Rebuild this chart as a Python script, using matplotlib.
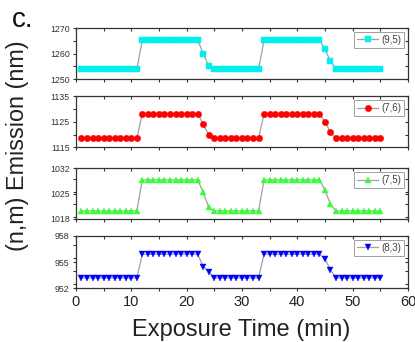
import matplotlib
matplotlib.use("Agg")
import matplotlib.pyplot as plt
from matplotlib.ticker import MultipleLocator

plt.rcParams['font.family'] = ['Liberation Sans', 'DejaVu Sans']

time = [1, 2, 3, 4, 5, 6, 7, 8, 9, 10, 11,
        12, 13, 14, 15, 16, 17, 18, 19, 20, 21, 22,
        23, 24,
        25, 26, 27, 28, 29, 30, 31, 32, 33,
        34, 35, 36, 37, 38, 39, 40, 41, 42, 43, 44,
        45, 46,
        47, 48, 49, 50, 51, 52, 53, 54, 55]

em_95 = [1253.8, 1253.8, 1253.8, 1253.8, 1253.8, 1253.8, 1253.8, 1253.8, 1253.8, 1253.8, 1253.8,
         1265.3, 1265.3, 1265.3, 1265.3, 1265.3, 1265.3, 1265.3, 1265.3, 1265.3, 1265.3, 1265.3,
         1260.0, 1255.1,
         1253.8, 1253.8, 1253.8, 1253.8, 1253.8, 1253.8, 1253.8, 1253.8, 1253.8,
         1265.3, 1265.3, 1265.3, 1265.3, 1265.3, 1265.3, 1265.3, 1265.3, 1265.3, 1265.3, 1265.3,
         1261.6, 1257.0,
         1253.8, 1253.8, 1253.8, 1253.8, 1253.8, 1253.8, 1253.8, 1253.8, 1253.8]

em_76 = [1118.5, 1118.5, 1118.5, 1118.5, 1118.5, 1118.5, 1118.5, 1118.5, 1118.5, 1118.5, 1118.5,
         1128.2, 1128.2, 1128.2, 1128.2, 1128.2, 1128.2, 1128.2, 1128.2, 1128.2, 1128.2, 1128.2,
         1124.0, 1120.0,
         1118.5, 1118.5, 1118.5, 1118.5, 1118.5, 1118.5, 1118.5, 1118.5, 1118.5,
         1128.2, 1128.2, 1128.2, 1128.2, 1128.2, 1128.2, 1128.2, 1128.2, 1128.2, 1128.2, 1128.2,
         1125.0, 1121.0,
         1118.5, 1118.5, 1118.5, 1118.5, 1118.5, 1118.5, 1118.5, 1118.5, 1118.5]

em_75 = [1020.2, 1020.2, 1020.2, 1020.2, 1020.2, 1020.2, 1020.2, 1020.2, 1020.2, 1020.2, 1020.2,
         1028.8, 1028.8, 1028.8, 1028.8, 1028.8, 1028.8, 1028.8, 1028.8, 1028.8, 1028.8, 1028.8,
         1025.3, 1021.2,
         1020.2, 1020.2, 1020.2, 1020.2, 1020.2, 1020.2, 1020.2, 1020.2, 1020.2,
         1028.8, 1028.8, 1028.8, 1028.8, 1028.8, 1028.8, 1028.8, 1028.8, 1028.8, 1028.8, 1028.8,
         1026.0, 1022.0,
         1020.2, 1020.2, 1020.2, 1020.2, 1020.2, 1020.2, 1020.2, 1020.2, 1020.2]

em_83 = [953.2, 953.2, 953.2, 953.2, 953.2, 953.2, 953.2, 953.2, 953.2, 953.2, 953.2,
         955.9, 955.9, 955.9, 955.9, 955.9, 955.9, 955.9, 955.9, 955.9, 955.9, 955.9,
         954.5, 953.9,
         953.2, 953.2, 953.2, 953.2, 953.2, 953.2, 953.2, 953.2, 953.2,
         955.9, 955.9, 955.9, 955.9, 955.9, 955.9, 955.9, 955.9, 955.9, 955.9, 955.9,
         955.4, 954.1,
         953.2, 953.2, 953.2, 953.2, 953.2, 953.2, 953.2, 953.2, 953.2]

labels = ['(9,5)', '(7,6)', '(7,5)', '(8,3)']
series = [em_95, em_76, em_75, em_83]
yticks = [[1250, 1260, 1270], [1115, 1125, 1135], [1018, 1025, 1032], [952, 955, 958]]
x_ticks = [0, 10, 20, 30, 40, 50, 60]

colors = ['#00f0f0', '#ff0000', '#33ff33', '#0000ff']
markers = ['s', 'o', '^', 'v']
msizes = [4.3, 4.6, 5.0, 5.0]

fig = plt.figure(figsize=(4.15, 3.42), dpi=100)
left, width = 0.183, 0.800
bottoms = [0.769, 0.569, 0.360, 0.157]
heights = [0.149, 0.150, 0.148, 0.153]
tick_col = '#333333'

for i in range(4):
    ax = fig.add_axes([left, bottoms[i], width, heights[i]])
    ax.plot(time, series[i], color='#a0a0a0', lw=0.9, marker=markers[i],
            markersize=msizes[i], markerfacecolor=colors[i], markeredgecolor=colors[i],
            markeredgewidth=0.3, label=labels[i])
    yt = yticks[i]
    ax.set_ylim(yt[0], yt[-1])
    ax.set_yticks(yt)
    ax.set_yticklabels([str(v) for v in yt], fontsize=6.3, color='#444444')
    ax.yaxis.set_minor_locator(MultipleLocator((yt[1] - yt[0]) / 2))
    ax.set_xlim(0, 60)
    ax.set_xticks(x_ticks)
    ax.xaxis.set_minor_locator(MultipleLocator(5))
    ax.tick_params(axis='both', which='both', direction='out', length=2.5, width=0.8,
                   colors=tick_col)
    ax.tick_params(axis='y', which='both', pad=2)
    if i < 3:
        ax.set_xticklabels([])
    else:
        ax.set_xticklabels([str(v) for v in x_ticks], fontsize=10.5, color='#222222')
        ax.tick_params(axis='x', pad=2)
    # inward ticks on top and right
    sx = ax.secondary_xaxis('top')
    sx.set_xticks(x_ticks)
    sx.xaxis.set_minor_locator(MultipleLocator(5))
    sx.tick_params(axis='x', which='both', direction='in', length=2.5, width=0.8,
                   colors=tick_col, labeltop=False)
    sx.spines['top'].set_visible(False)
    sy = ax.secondary_yaxis('right')
    sy.set_yticks(yt)
    sy.yaxis.set_minor_locator(MultipleLocator((yt[1] - yt[0]) / 2))
    sy.tick_params(axis='y', which='both', direction='in', length=2.5, width=0.8,
                   colors=tick_col, labelright=False)
    sy.spines['right'].set_visible(False)
    for sp in ax.spines.values():
        sp.set_color(tick_col)
        sp.set_linewidth(0.9)
    leg = ax.legend(loc='upper right', fontsize=7, frameon=True, fancybox=False,
                    handlelength=2.2, handletextpad=0.3, borderpad=0.3,
                    borderaxespad=0.4, labelcolor='#444444')
    leg.get_frame().set_edgecolor('#888888')
    leg.get_frame().set_linewidth(0.7)

fig.text(0.029, 0.921, 'c.', fontsize=20, color='#111111', va='baseline', ha='left')
fig.text(0.042, 0.573, '(n,m) Emission (nm)', rotation=90, fontsize=16.8,
         va='center', ha='center', color='#222222')
fig.text(0.582, 0.035, 'Exposure Time (min)', fontsize=17, va='center', ha='center',
         color='#222222')

fig.savefig('out.png', dpi=100)
